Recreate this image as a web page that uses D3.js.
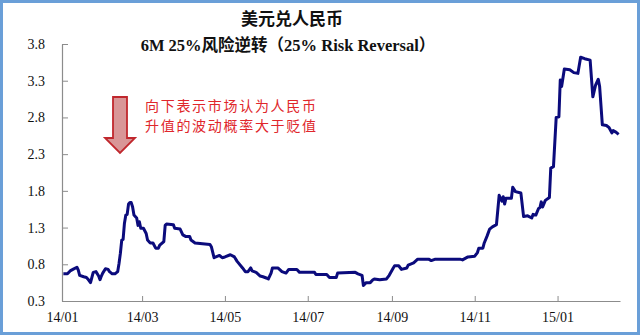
<!DOCTYPE html>
<html>
<head>
<meta charset="utf-8">
<script src="https://cdn.jsdelivr.net/npm/d3@7"></script>
<style>
  html, body { margin: 0; padding: 0; background: #fff; }
  svg { display: block; }
</style>
</head>
<body>
<script>
// USD/CNY 6M 25-delta risk reversal, daily observations
const dates = [
  "2014-01-02","2014-01-05","2014-01-07","2014-01-09","2014-01-12","2014-01-13","2014-01-14","2014-01-17","2014-01-19","2014-01-20",
  "2014-01-22","2014-01-24","2014-01-26","2014-01-28","2014-01-29","2014-01-30","2014-01-31","2014-02-02","2014-02-04","2014-02-05",
  "2014-02-07","2014-02-09","2014-02-11","2014-02-12","2014-02-13","2014-02-14","2014-02-15","2014-02-16","2014-02-17","2014-02-18",
  "2014-02-19","2014-02-20","2014-02-21","2014-02-22","2014-02-23","2014-02-25","2014-02-26","2014-02-27","2014-02-28","2014-03-02",
  "2014-03-04","2014-03-05","2014-03-07","2014-03-09","2014-03-11","2014-03-13","2014-03-14","2014-03-17","2014-03-18","2014-03-19",
  "2014-03-24","2014-03-25","2014-03-29","2014-03-31","2014-04-02","2014-04-05","2014-04-06","2014-04-09","2014-04-20","2014-04-21",
  "2014-04-23","2014-04-27","2014-04-29","2014-05-01","2014-05-05","2014-05-08","2014-05-10","2014-05-14","2014-05-16","2014-05-18",
  "2014-05-20","2014-05-21","2014-05-24","2014-05-27","2014-05-29","2014-06-01","2014-06-02","2014-06-04","2014-06-05","2014-06-09",
  "2014-06-12","2014-06-15","2014-06-17","2014-06-23","2014-06-25","2014-07-06","2014-07-07","2014-07-15","2014-07-17","2014-07-22",
  "2014-07-23","2014-08-05","2014-08-07","2014-08-10","2014-08-11","2014-08-13","2014-08-16","2014-08-18","2014-08-19","2014-08-23",
  "2014-08-28","2014-08-30","2014-09-02","2014-09-03","2014-09-06","2014-09-08","2014-09-12","2014-09-13","2014-09-17","2014-09-20",
  "2014-09-28","2014-09-30","2014-10-03","2014-10-06","2014-10-21","2014-10-23","2014-10-27","2014-11-01","2014-11-03","2014-11-04",
  "2014-11-07","2014-11-08","2014-11-10","2014-11-12","2014-11-14","2014-11-17","2014-11-19","2014-11-21","2014-11-22","2014-11-23",
  "2014-11-24","2014-11-28","2014-11-29","2014-12-01","2014-12-05","2014-12-07","2014-12-10","2014-12-13","2014-12-14","2014-12-16",
  "2014-12-18","2014-12-19","2014-12-20","2014-12-21","2014-12-23","2014-12-26","2014-12-27","2014-12-29","2014-12-31","2015-01-02",
  "2015-01-03","2015-01-04","2015-01-06","2015-01-10","2015-01-13","2015-01-16","2015-01-18","2015-01-21","2015-01-25","2015-01-27",
  "2015-01-29","2015-01-31","2015-02-01","2015-02-03","2015-02-06","2015-02-08","2015-02-10","2015-02-11","2015-02-13","2015-02-15"
];
const values = [
  0.67,0.67,0.71,0.73,0.76,0.72,0.65,0.63,0.62,0.60,
  0.55,0.69,0.70,0.64,0.59,0.64,0.68,0.74,0.73,0.70,
  0.67,0.67,0.70,0.81,0.95,1.13,1.14,1.36,1.47,1.48,
  1.62,1.64,1.64,1.58,1.47,1.43,1.33,1.38,1.29,1.29,
  1.22,1.13,1.09,1.09,1.02,1.02,1.06,1.11,1.33,1.35,
  1.34,1.29,1.28,1.20,1.18,1.18,1.13,1.09,1.07,1.04,
  0.89,0.92,0.89,0.90,0.93,0.90,0.84,0.75,0.70,0.70,
  0.75,0.71,0.69,0.64,0.63,0.61,0.60,0.68,0.75,0.75,
  0.70,0.68,0.73,0.73,0.69,0.69,0.66,0.66,0.62,0.62,
  0.68,0.69,0.67,0.65,0.51,0.55,0.55,0.59,0.60,0.59,
  0.60,0.65,0.75,0.78,0.78,0.73,0.75,0.79,0.82,0.87,
  0.87,0.85,0.87,0.87,0.87,0.86,0.90,0.91,0.96,1.02,
  1.02,1.09,1.18,1.28,1.31,1.34,1.74,1.66,1.72,1.62,
  1.70,1.70,1.85,1.79,1.77,1.45,1.46,1.43,1.48,1.47,
  1.56,1.57,1.65,1.58,1.67,1.71,2.11,2.13,2.80,2.81,
  3.31,3.22,3.46,3.45,3.41,3.40,3.62,3.60,3.58,3.08,
  3.24,3.32,3.22,2.70,2.69,2.66,2.59,2.62,2.60,2.57
];
const yTicks = [0.3, 0.8, 1.3, 1.8, 2.3, 2.8, 3.3, 3.8];
const xTickDates = ["2014-01-01","2014-03-01","2014-05-01","2014-07-01","2014-09-01","2014-11-01","2015-01-01"];
const xTickLabels = ["14/01","14/03","14/05","14/07","14/09","14/11","15/01"];
const titleLines = ["美元兑人民币", "6M 25%风险逆转（25% Risk Reversal）"];
const noteLines = ["向下表示市场认为人民币", "升值的波动概率大于贬值"];

const W = 640, H = 335;
const parse = d3.timeParse("%Y-%m-%d");
const series = dates.map((d, i) => ({ date: parse(d), value: values[i] }));

const svg = d3.select("body").append("svg").attr("width", W).attr("height", H);

// frame
svg.append("rect")
  .attr("x", 1.5).attr("y", 1.5).attr("width", W - 3).attr("height", H - 3)
  .attr("fill", "#fff").attr("stroke", "#6a9fd8").attr("stroke-width", 3);

const plot = { left: 62, right: 620, top: 44, bottom: 301 };

const x = d3.scaleTime()
  .domain([parse("2014-01-01"), parse("2015-02-16")])
  .range([plot.left, plot.right]);
const y = d3.scaleLinear().domain([0.3, 3.8]).range([plot.bottom, plot.top]);

const axisColor = "#8c8c8c";
const tickFont = "'Liberation Serif', 'Times New Roman', serif";

const yAxis = svg.append("g")
  .attr("transform", `translate(${plot.left},0)`)
  .call(d3.axisLeft(y).tickValues(yTicks).tickFormat(d3.format(".1f"))
    .tickSizeInner(-6).tickSizeOuter(0).tickPadding(17));
const xAxis = svg.append("g")
  .attr("transform", `translate(0,${plot.bottom})`)
  .call(d3.axisBottom(x).tickValues(xTickDates.map(parse))
    .tickFormat((d, i) => xTickLabels[i])
    .tickSizeInner(-5).tickSizeOuter(0).tickPadding(11));

[yAxis, xAxis].forEach(g => {
  g.selectAll("path.domain").attr("stroke", axisColor).attr("stroke-width", 1.2);
  g.selectAll(".tick line").attr("stroke", axisColor).attr("stroke-width", 1);
  g.selectAll(".tick text").attr("fill", "#111")
    .attr("font-family", tickFont).attr("font-size", "14px");
});

// series line
const line = d3.line().x(d => x(d.date)).y(d => y(d.value));
svg.append("path")
  .datum(series)
  .attr("d", line)
  .attr("fill", "none")
  .attr("stroke", "#0b0b7c")
  .attr("stroke-width", 3)
  .attr("stroke-linejoin", "round");

// title
const title = svg.append("g").style("font-family", "'Liberation Serif', 'Noto Sans CJK SC', serif")
  .style("font-weight", "bold").attr("fill", "#111").attr("text-anchor", "middle");
title.append("text").attr("x", 292).attr("y", 25).style("font-size", "17px").text(titleLines[0]);
title.append("text").attr("x", 288).attr("y", 51).style("font-size", "16.5px").text(titleLines[1]);

// annotation arrow pointing down
const arrow = d3.path();
arrow.moveTo(113, 97);
arrow.lineTo(127, 97);
arrow.lineTo(127, 138);
arrow.lineTo(135, 138);
arrow.lineTo(120, 153);
arrow.lineTo(105, 138);
arrow.lineTo(113, 138);
arrow.closePath();
svg.append("path").attr("d", arrow.toString())
  .attr("fill", "#d99697").attr("stroke", "#c0272d").attr("stroke-width", 1.8)
  .attr("stroke-linejoin", "miter");

const note = svg.append("g").style("font-family", "'Noto Sans CJK SC', sans-serif")
  .style("font-size", "14px").style("letter-spacing", "1.7px").attr("fill", "#e0262b");
noteLines.forEach((t, i) => {
  note.append("text").attr("x", 145).attr("y", 111 + i * 20).text(t);
});
</script>
</body>
</html>
